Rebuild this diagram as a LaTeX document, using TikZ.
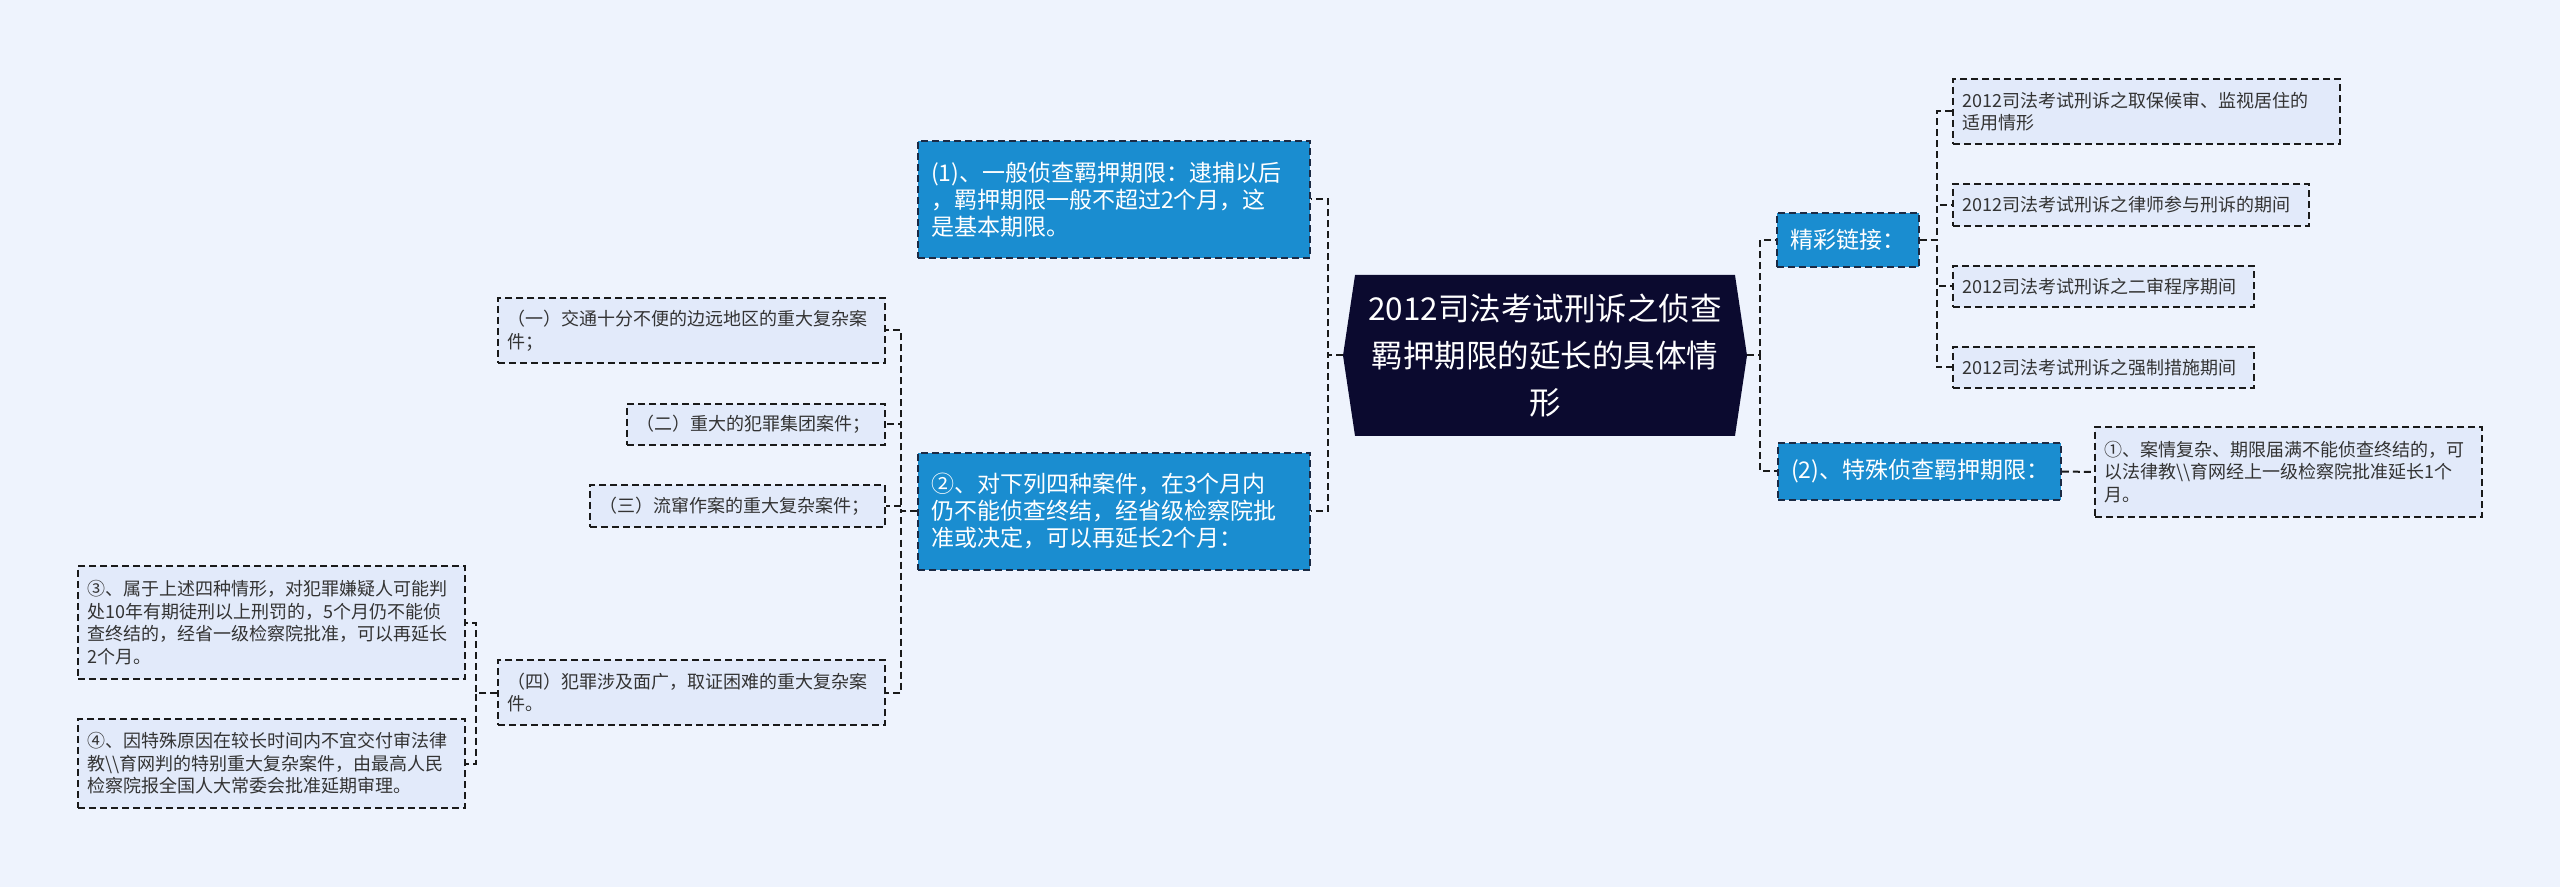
\documentclass[tikz,border=0pt]{standalone}
\usepackage{fontspec}
\setmainfont{Noto Sans CJK SC}
\usetikzlibrary{shapes.symbols}
\usepackage{xcolor}
\definecolor{bgc}{HTML}{EEF3FD}
\definecolor{leafc}{HTML}{E2EAFA}
\definecolor{topicc}{HTML}{1A8DD0}
\definecolor{rootc}{HTML}{0B0A2F}
\definecolor{linkc}{HTML}{1A1A1A}
\definecolor{textc}{HTML}{333333}
\definecolor{topicline}{HTML}{1B2A44}

\begin{document}
\begin{tikzpicture}[x=0.5pt,y=-0.5pt,
        link/.style={draw=linkc,line width=1pt,dash pattern=on 3.5pt off 2pt},
        leaf/.style={draw=linkc,line width=0.85pt,dash pattern=on 3.5pt off 2pt,fill=leafc,text=textc,
            align=left,inner xsep=4.75pt,inner ysep=2pt,font=\fontsize{9}{11.25}\selectfont},
        topic/.style={draw=topicline,line width=0.85pt,dash pattern=on 3.5pt off 2pt,fill=topicc,text=white,
            align=left,inner xsep=6.5pt,inner ysep=2pt,font=\fontsize{11.5}{13.5}\selectfont},
        root/.style={shape=signal,signal to=west and east,signal pointer angle=163,fill=rootc,text=white,
            align=center,inner sep=0pt,minimum width=202pt,minimum height=80.5pt,font=\fontsize{15.75}{23.5}\selectfont}]
        % background
        \fill[bgc] (0,0) rectangle (2560,887);
        \useasboundingbox (0,0) rectangle (2560,887);
        % centre
        \node[root] (main) at (1545,355.5) {2012司法考试刑诉之侦查\\羁押期限的延长的具体情\\形};
        % left side
        \node[topic,text width=183pt,minimum height=58.5pt] (general) at (1114,199.5)
            {(1)、一般侦查羁押期限：逮捕以后\\，羁押期限一般不超过2个月，这\\是基本期限。};
        \node[topic,text width=183pt,minimum height=58.5pt] (fourcases) at (1114,511.5)
            {②、对下列四种案件，在3个月内\\仍不能侦查终结，经省级检察院批\\准或决定，可以再延长2个月：};
        \node[leaf,text width=184pt,minimum height=32.5pt] (caseone) at (691.5,330.5)
            {（一）交通十分不便的边远地区的重大复杂案\\件；};
        \node[leaf,text width=119.5pt,minimum height=20.5pt] (casetwo) at (756,424.5)
            {（二）重大的犯罪集团案件；};
        \node[leaf,text width=138pt,minimum height=21pt] (casethree) at (737.5,506)
            {（三）流窜作案的重大复杂案件；};
        \node[leaf,text width=184pt,minimum height=32.5pt] (casefour) at (691.5,692.5)
            {（四）犯罪涉及面广，取证困难的重大复杂案\\件。};
        \node[leaf,text width=184pt,minimum height=56.5pt] (tenyears) at (271.5,622.5)
            {③、属于上述四种情形，对犯罪嫌疑人可能判\\处10年有期徒刑以上刑罚的，5个月仍不能侦\\查终结的，经省一级检察院批准，可以再延长\\2个月。};
        \node[leaf,text width=184pt,minimum height=44.5pt] (npc) at (271.5,763.5)
            {④、因特殊原因在较长时间内不宜交付审法律\\教\textbackslash\textbackslash 育网判的特别重大复杂案件，由最高人民\\检察院报全国人大常委会批准延期审理。};
        % right side
        \node[topic,text width=58pt,minimum height=27pt] (links) at (1848,240) {精彩链接：};
        \node[topic,text width=128.5pt,minimum height=28.5pt] (special) at (1919.5,471.5) {(2)、特殊侦查羁押期限：};
        \node[leaf,text width=184pt,minimum height=32.5pt] (bail) at (2146.5,111.5)
            {2012司法考试刑诉之取保候审、监视居住的\\适用情形};
        \node[leaf,text width=168.5pt,minimum height=21pt] (lawyer) at (2131,205)
            {2012司法考试刑诉之律师参与刑诉的期间};
        \node[leaf,text width=141pt,minimum height=20.5pt] (appeal) at (2103.5,286.5)
            {2012司法考试刑诉之二审程序期间};
        \node[leaf,text width=141pt,minimum height=20.5pt] (measures) at (2103.5,367.5)
            {2012司法考试刑诉之强制措施期间};
        \node[leaf,text width=184pt,minimum height=45pt] (onemonth) at (2288.5,472)
            {①、案情复杂、期限届满不能侦查终结的，可\\以法律教\textbackslash\textbackslash 育网经上一级检察院批准延长1个\\月。};
        % connectors
        \draw[link] (main.west) -- ++(-15,0) |- (general.east);
        \draw[link] (main.west) -- ++(-15,0) |- (fourcases.east);
        \draw[link] (main.east) -- ++(13,0) |- (links.west);
        \draw[link] (main.east) -- ++(13,0) |- (special.west);
        \foreach \k in {caseone,casetwo,casethree,casefour}
            \draw[link] (fourcases.west) -- ++(-16,0) |- (\k.east);
        \foreach \k in {tenyears,npc}
            \draw[link] (casefour.west) -- ++(-21,0) |- (\k.east);
        \foreach \k in {bail,lawyer,appeal,measures}
            \draw[link] (links.east) -- ++(17,0) |- (\k.west);
        \draw[link] (special.east) -- (onemonth.west);
    \end{tikzpicture}
\end{document}
